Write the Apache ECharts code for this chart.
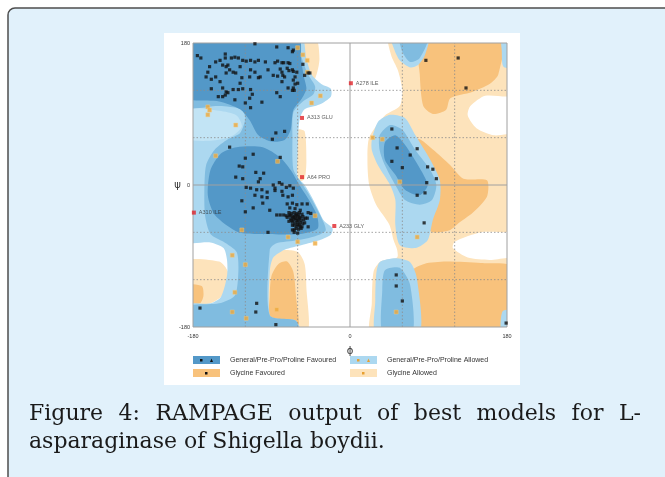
<!DOCTYPE html>
<html><head><meta charset="utf-8">
<script src="https://cdn.jsdelivr.net/npm/echarts@6/dist/echarts.min.js"></script>
<style>html,body{margin:0;padding:0;background:#fff}#c{width:665px;height:477px}</style>
</head><body><div id="c"></div>
<script>
// ---------- axis ticks ----------
const axisMin = -180, axisMax = 180, axisStep = 60;
const labelledTicks = [-180, 0, 180];
const dottedGrid = [-120, -60, 60, 120];
const solidGrid = [0];

// ---------- residues (phi, psi) ----------
const generalResidues = [
 [-109,179],[-175,164],[-171,161],[-161,150],[-154,156],[-149,158],[-143,166],[-143,161],[-140,152],[-136,161],
 [-132,162],[-128,161],[-123,158],[-119,157],[-114,158],[-109,156],[-105,158],[-146,152],[-142,150],[-138,146],
 [-134,143],[-131,142],[-126,150],[-114,146],[-109,143],[-163,143],[-165,137],[-159,134],[-154,137],[-149,131],
 [-142,142],[-126,129],[-124,136],[-115,137],[-105,136],[-159,122],[-146,123],[-142,118],[-143,114],[-140,117],
 [-134,121],[-128,121],[-123,122],[-114,121],[-112,115],[-146,112],[-132,108],[-120,104],[-115,110],[-114,98],
 [-151,112],[-84,175],[-71,174],[-66,169],[-65,171],[-97,156],[-86,155],[-83,157],[-78,155],[-76,155],
 [-71,155],[-69,154],[-54,153],[-94,146],[-80,147],[-78,143],[-72,148],[-70,145],[-66,146],[-65,144],
 [-61,143],[-88,139],[-83,138],[-77,139],[-75,137],[-63,137],[-52,139],[-48,142],[-46,142],[-103,137],
 [-78,131],[-65,133],[-60,129],[-63,128],[-71,123],[-66,120],[-65,123],[-64,120],[-84,117],[-80,112],
 [-101,105],[-85,66],[-75,68],[-89,58],[-138,48],[-111,39],[-120,34],[-80,35],[-127,24],[-123,23],
 [-108,16],[-99,15],[-131,10],[-123,8],[-103,8],[-105,4],[-88,0],[-81,3],[-78,1],[-73,-3],
 [-119,-3],[-114,-4],[-86,-4],[-65,-4],[-69,-1],[-107,-6],[-101,-6],[-95,-9],[-86,-7],[-78,-8],
 [-109,-13],[-101,-15],[-95,-16],[-77,-13],[-71,-15],[-66,-13],[-124,-20],[-100,-23],[-72,-24],[-66,-23],
 [-61,-25],[-55,-24],[-49,-24],[-111,-29],[-92,-32],[-69,-29],[-63,-30],[-57,-32],[-120,-34],[-84,-38],
 [-80,-38],[-76,-38],[-73,-39],[-69,-38],[-70,-35],[-67,-36],[-64,-35],[-61,-36],[-58,-35],[-55,-37],
 [-69,-39],[-66,-40],[-63,-39],[-60,-40],[-57,-41],[-54,-40],[-68,-43],[-65,-44],[-62,-43],[-59,-44],
 [-56,-45],[-53,-44],[-66,-47],[-63,-48],[-60,-47],[-57,-48],[-54,-49],[-64,-51],[-61,-52],[-58,-51],
 [-55,-53],[-62,-55],[-59,-56],[-56,-55],[-67,-45],[-65,-41],[-62,-38],[-59,-38],[-58,-42],[-61,-45],
 [-63,-42],[-60,-50],[-57,-53],[-52,-48],[-51,-42],[-72,-41],[-70,-46],[-66,-51],[-64,-57],[-48,-35],
 [-45,-36],[-49,-42],[-48,-53],[-94,-60],[-66,-57],[-60,-61],[-64,-60],[-172,-156],[-107,-150],[-108,-161],
 [-85,-177],[87,158],[124,161],[133,123],[48,71],[54,47],[77,46],[48,30],[69,38],[60,22],
 [89,23],[95,20],[99,8],[88,3],[77,-13],[86,-10],[85,-48],[53,-114],[53,-128],[60,-147],[179,-175]
];
const glycineResidues = [
 [-163,99],[-161,95],[-163,89],[-60,174],[-54,165],[-49,158],[-49,143],[-34,113],[-44,104],[-131,76],
 [-154,37],[-83,30],[-124,-57],[-40,-39],[-71,-66],[-60,-72],[-40,-74],[-135,-89],[-120,-101],[-132,-136],
 [-135,-161],[-119,-169],[-84,-158],[26,60],[37,58],[57,4],[77,-66],[53,-161]
];
const outlierNames = ['A278 ILE','A313 GLU','A64 PRO','A310 ILE','A233 GLY'];
const outlierPhi = [1,-55,-55,-179,-18];
const outlierPsi = [129,85,10,-35,-52];

// ---------- contour regions (phi, psi vertices) ----------
const glycineAllowed = [
 [[45,190],[190,190],[190,115],[155,113],[138,100],[135,88],[145,72],[165,63],[190,62],[190,-55],[150,-60],[120,-72],[118,-80],[135,-92],[160,-95],[190,-95],[190,-190],[25,-190],[25,-150],[27,-110],[35,-97],[54,-92],[54,-82],[50,-70],[45,-50],[30,-25],[22,0],[20,30],[22,60],[40,88],[57,100],[60,120],[55,145],[47,165]],
 [[-190,-97],[-150,-97],[-140,-110],[-142,-135],[-160,-150],[-190,-150]],
 [[-100,-190],[-50,-190],[-50,-130],[-52,-100],[-60,-85],[-78,-83],[-95,-95],[-100,-140]],
 [[-62,190],[-40,190],[-35,160],[-40,135],[-52,120],[-58,140]],
 [[-60,70],[-52,68],[-50,30],[-52,8],[-58,5],[-62,30]]
];
const glycineFavoured = [
 [[80,190],[174,190],[170,140],[160,128],[140,118],[115,110],[110,95],[95,90],[84,100],[80,140]],
 [[78,58],[95,45],[115,25],[130,8],[157,6],[157,-15],[141,-35],[125,-48],[115,-57],[95,-60],[85,-50],[80,-10],[72,30]],
 [[65,-190],[190,-190],[190,-105],[150,-99],[110,-97],[85,-100],[70,-110]],
 [[-92,-190],[-60,-190],[-62,-140],[-65,-110],[-72,-97],[-82,-100],[-90,-115],[-92,-140]],
 [[-190,-127],[-170,-128],[-168,-140],[-172,-150],[-190,-152]]
];
const generalAllowed = [
 [[-190,190],[-57,190],[-50,160],[-44,140],[-33,128],[-22,122],[-22,112],[-35,102],[-52,96],[-58,82],[-60,40],[-60,10],[-52,0],[-44,-15],[-37,-30],[-30,-45],[-20,-55],[-22,-63],[-35,-70],[-55,-76],[-75,-82],[-88,-92],[-92,-110],[-92,-165],[-80,-170],[-62,-172],[-57,-190],[-190,-190],[-190,-152],[-160,-150],[-148,-142],[-141,-115],[-141,-95],[-145,-80],[-160,-73],[-190,-70]],
 [[25,57],[32,80],[46,89],[63,85],[75,63],[92,32],[103,6],[103,-19],[95,-44],[89,-70],[75,-80],[57,-76],[52,-51],[52,-19],[46,0],[32,25],[25,44]],
 [[47,190],[90,190],[86,165],[78,152],[69,149],[57,158],[51,171]],
 [[34,-98],[52,-93],[69,-98],[77,-120],[79,-190],[30,-190],[29,-146],[30,-114]],
 [[174,190],[190,190],[190,150],[176,150],[174,170]],
 [[175,-160],[190,-160],[190,-190],[174,-190]]
];
const generalPale = [
 [[-190,96],[-150,94],[-130,88],[-124,74],[-135,62],[-160,56],[-190,60]]
];
const generalFavoured = [
 [[-190,190],[-62,190],[-55,160],[-48,140],[-40,125],[-42,115],[-55,105],[-65,92],[-66,60],[-65,20],[-57,5],[-47,-12],[-38,-30],[-30,-48],[-28,-58],[-40,-65],[-60,-70],[-85,-74],[-92,-82],[-92,-165],[-62,-172],[-60,-190],[-190,-190],[-190,-155],[-150,-150],[-132,-140],[-128,-110],[-130,-85],[-145,-72],[-160,-62],[-166,-40],[-167,-10],[-165,25],[-155,45],[-140,58],[-126,66],[-120,85],[-125,96],[-150,100],[-190,100]],
 [[34,63],[46,76],[60,70],[75,44],[92,19],[99,0],[94,-19],[80,-25],[63,-19],[52,0],[40,25],[34,44]],
 [[57,190],[90,190],[80,161],[69,156],[60,169]],
 [[40,-108],[57,-105],[69,-127],[71,-190],[38,-190],[37,-133]]
];
const generalCore = [
 [[-190,190],[-60,190],[-56,158],[-53,138],[-50,122],[-55,110],[-65,95],[-68,70],[-75,57],[-90,55],[-105,63],[-115,82],[-126,96],[-150,106],[-190,112]],
 [[-130,48],[-100,48],[-80,35],[-68,19],[-58,0],[-47,-19],[-38,-38],[-37,-55],[-57,-62],[-103,-62],[-128,-60],[-155,-38],[-163,-13],[-160,19],[-148,40]],
 [[40,54],[52,63],[63,51],[78,25],[89,0],[80,-13],[63,-6],[52,13],[40,32]]
];

const COL = {
  core:'#5398c8', fav:'#80bce0', allowed:'#acd8f0', pale:'#c2e4f5',
  glyFav:'#f8c27c', glyAllowed:'#fde3bb'
};

function regionSeries(polys, color, z) {
  return {
    type:'custom', coordinateSystem:'cartesian2d', clip:true, silent:true, z:z,
    data: polys.map(() => [0, 0]),
    renderItem: (params, api) => {
      const pts = polys[params.dataIndex].map(p => api.coord(p));
      return {type:'polygon', shape:{points:pts, smooth:0.25}, style:{fill:color}};
    }
  };
}

const chart = echarts.init(document.getElementById('c'), null, {renderer:'canvas'});

const gridSeries = {
  type:'custom', coordinateSystem:'cartesian2d', clip:false, silent:true, z:20,
  data:[[0,0]],
  renderItem: (params, api) => {
    const kids = [];
    dottedGrid.forEach(v => {
      const a = api.coord([v, axisMin]), b = api.coord([v, axisMax]);
      kids.push({type:'line', shape:{x1:a[0],y1:a[1],x2:b[0],y2:b[1]}, style:{stroke:'#8c8c8c', lineWidth:0.8, lineDash:[1.5,2]}});
      const c = api.coord([axisMin, v]), d = api.coord([axisMax, v]);
      kids.push({type:'line', shape:{x1:c[0],y1:c[1],x2:d[0],y2:d[1]}, style:{stroke:'#8c8c8c', lineWidth:0.8, lineDash:[1.5,2]}});
    });
    solidGrid.forEach(v => {
      const a = api.coord([v, axisMin]), b = api.coord([v, axisMax]);
      kids.push({type:'line', shape:{x1:a[0],y1:a[1],x2:b[0],y2:b[1]}, style:{stroke:'#a0a0a0', lineWidth:1}});
      const c = api.coord([axisMin, v]), d = api.coord([axisMax, v]);
      kids.push({type:'line', shape:{x1:c[0],y1:c[1],x2:d[0],y2:d[1]}, style:{stroke:'#a0a0a0', lineWidth:1}});
    });
    const tl = api.coord([axisMin, axisMax]), br = api.coord([axisMax, axisMin]);
    kids.push({type:'rect', shape:{x:tl[0], y:tl[1], width:br[0]-tl[0], height:br[1]-tl[1]}, style:{fill:null, stroke:'#a0a0a0', lineWidth:1}});
    return {type:'group', children:kids};
  }
};

const small = {fontFamily:'Liberation Sans', fontSize:5.5, color:'#333'};

// caption, line 1 justified between two edges
const caption1 = ['Figure','4:','RAMPAGE','output','of','best','models','for','L-'];
const caption2 = 'asparaginase of Shigella boydii.';
const capFont = '22px "DejaVu Serif"';
const capLeft = 29, capRight = 641;
const mctx = document.createElement('canvas').getContext('2d');
mctx.font = capFont;
const wWidths = caption1.map(w => mctx.measureText(w).width);
const capGap = (capRight - capLeft - wWidths.reduce((a, b) => a + b, 0)) / (caption1.length - 1);
const caption1X = [];
wWidths.reduce((x, w) => { caption1X.push(x); return x + w + capGap; }, capLeft);

const legFont = '7px "Liberation Sans"';
const graphics = [
  {type:'rect', z:-10, shape:{x:8, y:8, width:720, height:520, r:7}, style:{fill:'#e1f1fb', stroke:'#4d4d4d', lineWidth:1.5}},
  {type:'rect', z:-9, shape:{x:164, y:33, width:356, height:352}, style:{fill:'#ffffff'}},
  // legend
  {type:'rect', shape:{x:193, y:356, width:27, height:8}, style:{fill:COL.core}},
  {type:'rect', shape:{x:200, y:359, width:2.5, height:2.5}, style:{fill:'#111'}},
  {type:'polygon', shape:{points:[[210,362],[213,362],[211.5,358.5]]}, style:{fill:'#111'}},
  {type:'text', style:{x:230, y:360.5, text:'General/Pre-Pro/Proline Favoured', font:legFont, fill:'#333', verticalAlign:'middle'}},
  {type:'rect', shape:{x:350, y:356, width:27, height:8}, style:{fill:COL.allowed}},
  {type:'rect', shape:{x:357, y:359, width:2.5, height:2.5}, style:{fill:'#e8a030'}},
  {type:'polygon', shape:{points:[[367,362],[370,362],[368.5,358.5]]}, style:{fill:'#e8a030'}},
  {type:'text', style:{x:387, y:360.5, text:'General/Pre-Pro/Proline Allowed', font:legFont, fill:'#333', verticalAlign:'middle'}},
  {type:'rect', shape:{x:193, y:369, width:27, height:8}, style:{fill:COL.glyFav}},
  {type:'rect', shape:{x:205, y:372, width:2.5, height:2.5}, style:{fill:'#111'}},
  {type:'text', style:{x:230, y:373.5, text:'Glycine Favoured', font:legFont, fill:'#333', verticalAlign:'middle'}},
  {type:'rect', shape:{x:350, y:369, width:27, height:8}, style:{fill:COL.glyAllowed}},
  {type:'rect', shape:{x:362, y:372, width:2.5, height:2.5}, style:{fill:'#e8a030'}},
  {type:'text', style:{x:387, y:373.5, text:'Glycine Allowed', font:legFont, fill:'#333', verticalAlign:'middle'}},
  {type:'text', style:{x:capLeft, y:442, text:caption2, font:capFont, fill:'#1a1a1a', verticalAlign:'middle'}}
];
caption1.forEach((w, i) => graphics.push({type:'text', style:{x:caption1X[i], y:414, text:w, font:capFont, fill:'#1a1a1a', verticalAlign:'middle'}}));

const option = {
  animation:false,
  backgroundColor:'#ffffff',
  grid:{left:193, top:43, width:314, height:284},
  xAxis:{type:'value', min:axisMin, max:axisMax, interval:axisStep,
    splitLine:{show:false}, axisLine:{show:false}, axisTick:{show:false},
    axisLabel:{...small, margin:6, formatter:v => labelledTicks.includes(v) ? String(v) : ''},
    name:'ϕ', nameLocation:'middle', nameGap:19, nameTextStyle:{fontSize:10, color:'#333', fontFamily:'DejaVu Sans'}},
  yAxis:{type:'value', min:axisMin, max:axisMax, interval:axisStep,
    splitLine:{show:false}, axisLine:{show:false}, axisTick:{show:false},
    axisLabel:{...small, margin:3,
      formatter:v => v === 0 ? '{psi|ψ}{z|    0}' : (labelledTicks.includes(v) ? String(v) : ''),
      rich:{psi:{fontSize:10, fontFamily:'DejaVu Sans', color:'#333'}, z:{fontSize:5.5, color:'#333', fontFamily:'Liberation Sans'}}}},
  graphic:graphics,
  series:[
    regionSeries(glycineAllowed, COL.glyAllowed, 2),
    regionSeries(glycineFavoured, COL.glyFav, 3),
    regionSeries(generalAllowed, COL.allowed, 4),
    regionSeries(generalPale, COL.pale, 5),
    regionSeries(generalFavoured, COL.fav, 6),
    regionSeries(generalCore, COL.core, 7),
    gridSeries,
    {type:'scatter', z:30, symbol:'rect', symbolSize:4, data:glycineResidues,
      itemStyle:{color:'#eea73a', borderColor:'#f6cf8a', borderWidth:0.5}, silent:true},
    {type:'scatter', z:31, symbol:'rect', symbolSize:3.2, data:generalResidues,
      itemStyle:{color:'#111111'}, silent:true},
    {type:'scatter', z:32, symbol:'rect', symbolSize:4, silent:true,
      data:outlierNames.map((n, i) => ({name:n, value:[outlierPhi[i], outlierPsi[i]]})),
      itemStyle:{color:'#e0242a'},
      label:{show:true, position:'right', distance:3, formatter:p => p.name, fontSize:5.5, color:'#333', fontFamily:'Liberation Sans'}}
  ]
};
chart.setOption(option);
</script></body></html>
